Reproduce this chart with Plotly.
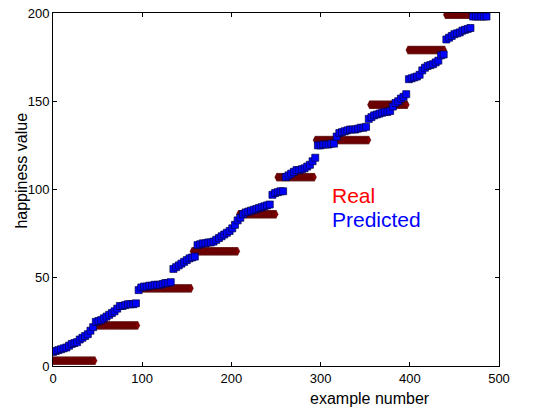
import plotly.graph_objects as go

# Real values: step levels and the last example index of each step
real_levels = [3, 23, 44, 65, 86, 107, 128, 148, 179, 199]
real_step_ends = [47, 95, 155, 207, 250, 293, 354, 397, 439, 486]

# Predicted values (read every 3rd example)
pred_x = list(range(0, 487, 3))
pred_y = [
    8, 8.5, 9, 9.5, 10, 10.5, 11.5, 12.5, 13, 13.5, 15, 16, 17, 18, 20, 22,
    25, 25.5, 26, 27, 28, 29, 30, 31, 32.5, 34, 34, 34.5, 35, 35, 35, 35.5,
    43, 44.5, 45, 45, 45.5, 45.5, 46, 46, 46, 46.5, 47, 47, 47.5,
    55, 56, 57, 58, 59, 60, 61, 61.5, 62,
    68.5, 69, 69.5, 69.5, 70, 70, 70.5, 71.5, 72.5, 73.5, 74.5, 75.5, 76.5, 78, 80,
    82.5, 84, 86, 87, 87.5, 88, 88.5, 89, 89.5, 90, 90.5, 91, 91.5,
    97, 98, 98.5, 99, 99,
    107, 108, 109, 110, 111, 111, 111.5, 112, 113, 114, 116, 118,
    125, 125, 125.5, 125.5, 125.5, 126, 126, 130, 132, 132.5, 133, 133.5, 134, 134, 134, 134.5, 135, 135, 135.5,
    140, 141, 142, 142.5, 143, 143.5, 144, 144, 144.5, 147, 149, 150, 151.5, 152.5, 154,
    162.5, 163, 163.5, 164, 165, 167.5, 169, 170, 170.5, 171, 172, 173, 176,
    176.5, 185, 186, 187, 188, 188.5, 189, 190, 190.5, 191, 191.5, 198, 198, 198, 198, 198, 198,
]

x_ticks = [0, 100, 200, 300, 400, 500]
y_ticks = [0, 50, 100, 150, 200]

# expand step table into per-example real values
real_x, real_y = [], []
start = 0
for lvl, end in zip(real_levels, real_step_ends):
    for i in range(start, end + 1):
        real_x.append(i)
        real_y.append(lvl)
    start = end + 1

fig = go.Figure()
fig.add_trace(go.Scatter(
    x=real_x, y=real_y, mode="markers", name="Real",
    marker=dict(symbol="diamond-tall", size=6, color="#8a0000",
                line=dict(color="#4a0000", width=0.5)),
))
fig.add_trace(go.Scatter(
    x=pred_x, y=pred_y, mode="markers", name="Predicted",
    marker=dict(symbol="square", size=7, color="#0000ff",
                line=dict(color="#000044", width=0.7)),
))

axis_common = dict(
    showgrid=False, zeroline=False, showline=True, linecolor="black",
    linewidth=1, mirror="ticks", ticks="inside", ticklen=4, tickcolor="black",
    automargin=False,
    tickfont=dict(family="Liberation Sans", size=13, color="black"),
)
fig.update_xaxes(range=[0, 500], tickvals=x_ticks, **axis_common)
fig.update_yaxes(range=[0, 200], tickvals=y_ticks, **axis_common)

fig.add_annotation(x=311, y=96.5, xref="x", yref="y", text="Real",
                   showarrow=False, xanchor="left", yanchor="middle",
                   font=dict(family="Liberation Sans", size=21, color="#ff0000"))
fig.add_annotation(x=311, y=82.8, xref="x", yref="y", text="Predicted",
                   showarrow=False, xanchor="left", yanchor="middle",
                   font=dict(family="Liberation Sans", size=21, color="#0000ff"))
fig.add_annotation(x=0.71, y=-0.092, xref="paper", yref="paper",
                   text="example number", showarrow=False,
                   xanchor="center", yanchor="middle",
                   font=dict(family="Liberation Sans", size=16, color="black"))
fig.add_annotation(x=-0.07, y=0.553, xref="paper", yref="paper",
                   text="happiness value", showarrow=False, textangle=-90,
                   xanchor="center", yanchor="middle",
                   font=dict(family="Liberation Sans", size=16, color="black"))

fig.update_layout(
    width=533, height=408,
    margin=dict(l=53, r=34, t=13, b=42),
    paper_bgcolor="white", plot_bgcolor="white",
    showlegend=False,
)

fig.write_html("out.html", config={"displayModeBar": False},
               post_script="document.body.style.margin='0';document.body.style.padding='0';")
